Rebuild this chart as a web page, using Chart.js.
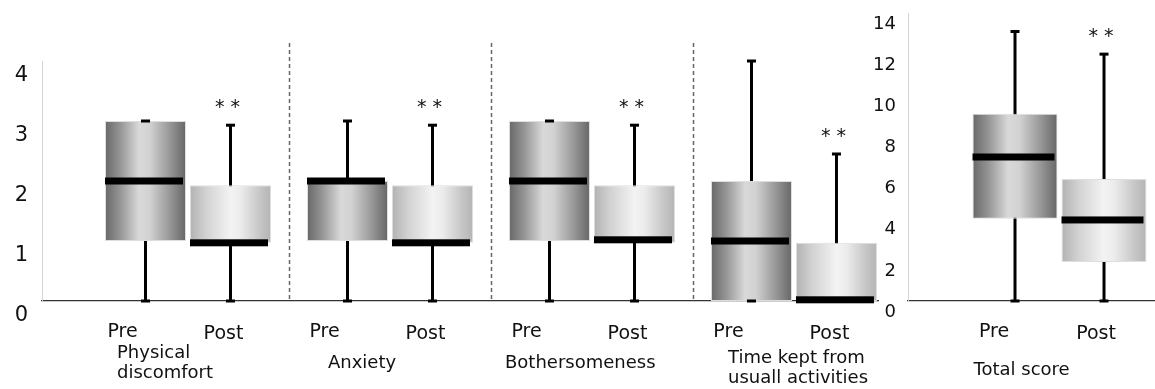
<!DOCTYPE html>
<html>
<head>
<meta charset="utf-8">
<script src="https://cdn.jsdelivr.net/npm/chart.js@4.4.1/dist/chart.umd.min.js"></script>
<style>
  body { margin: 0; background: #fff; width: 1155px; height: 389px; position: relative; overflow: hidden; }
  canvas { position: absolute; top: 0; }
  #subscales { left: 0; }
  #total { left: 860px; }
</style>
</head>
<body>
<canvas id="subscales" width="885" height="389"></canvas>
<canvas id="total" width="295" height="389"></canvas>
<script>
// ---- data: subscales (left panel, 0-4) ----
const groups = [['Physical', 'discomfort'], ['Anxiety'], ['Bothersomeness'], ['Time kept from', 'usuall activities']];
const phases = ['Pre', 'Post'];
const subTicks = [0, 1, 2, 3, 4];

const preMin    = [0, 0, 0, 0];
const preQ1     = [1, 1, 1, 0];
const preMedian = [2, 2, 2, 1];
const preQ3     = [3, 2, 3, 2];
const preMax    = [3, 3, 3, 4];

const postMin    = [0, 0, 0, 0];
const postQ1     = [0.97, 0.97, 0.97, 0];
const postMedian = [0.97, 0.97, 1.02, 0.02];
const postQ3     = [1.93, 1.93, 1.93, 0.97];
const postMax    = [2.93, 2.93, 2.93, 2.45];

const sigMarks = ['* *', '* *', '* *', '* *'];

// ---- data: total score (right panel, 0-14) ----
const totalGroups = [['Total score']];
const totalTicks = [0, 2, 4, 6, 8, 10, 12, 14];
const totalPreMin = [0],  totalPreQ1 = [4],   totalPreMedian = [7],    totalPreQ3 = [9.1],  totalPreMax = [13.1];
const totalPostMin = [0], totalPostQ1 = [1.9], totalPostMedian = [3.94], totalPostQ3 = [5.93], totalPostMax = [12];
const totalSig = ['* *'];

const FONT = 'DejaVu Sans';

// gradient look of the boxes
const gradStops = [
  [[0, '#686868'], [0.18, '#939393'], [0.42, '#d9d9d9'], [0.55, '#d2d2d2'], [0.82, '#939393'], [1, '#666666']],
  [[0, '#b2b2b2'], [0.2, '#d2d2d2'], [0.5, '#f3f3f3'], [0.62, '#ececec'], [0.85, '#c8c8c8'], [1, '#b4b4b4']]
];

const boxPlot = {
  id: 'boxPlot',
  beforeDatasetsDraw(chart, args, opt) {
    const { ctx, chartArea, scales: { x, y } } = chart;
    ctx.save();
    if (opt.separators) {
      ctx.strokeStyle = '#666';
      ctx.lineWidth = 1.5;
      ctx.setLineDash([4, 3]);
      for (let k = 0; k < opt.groups.length - 1; k++) {
        const px = Math.round(x.getPixelForValue(k + 0.5)) + 0.5;
        ctx.beginPath();
        ctx.moveTo(px, 43);
        ctx.lineTo(px, chartArea.bottom);
        ctx.stroke();
      }
      ctx.setLineDash([]);
    }
    ctx.strokeStyle = '#000';
    ctx.lineWidth = 3;
    opt.stats.forEach((s, d) => {
      chart.getDatasetMeta(d).data.forEach((el, i) => {
        ctx.beginPath();
        ctx.moveTo(el.x, y.getPixelForValue(s.min[i]));
        ctx.lineTo(el.x, y.getPixelForValue(s.max[i]));
        ctx.stroke();
        // gradient across each box
        const g = ctx.createLinearGradient(el.x - el.width / 2, 0, el.x + el.width / 2, 0);
        gradStops[d].forEach(([p, c]) => g.addColorStop(p, c));
        el.options = Object.assign({}, el.options, { backgroundColor: g });
      });
    });
    ctx.restore();
  },
  afterDatasetsDraw(chart, args, opt) {
    const { ctx, scales: { y } } = chart;
    ctx.save();
    ctx.fillStyle = '#000';
    opt.stats.forEach((s, d) => {
      chart.getDatasetMeta(d).data.forEach((el, i) => {
        // caps
        [s.min[i], s.max[i]].forEach(v => {
          ctx.fillRect(el.x - 4.5, y.getPixelForValue(v) - 1.5, 9, 3);
        });
        // median
        ctx.fillRect(el.x - el.width / 2, y.getPixelForValue(s.median[i]) - 3.5, el.width - 3, 7);
      });
    });
    ctx.restore();
  },
  afterDraw(chart, args, opt) {
    const { ctx, scales: { x, y } } = chart;
    ctx.save();
    ctx.fillStyle = '#111';
    ctx.textAlign = 'center';
    ctx.textBaseline = 'alphabetic';
    // Pre / Post labels
    ctx.font = '19px "' + FONT + '"';
    opt.stats.forEach((s, d) => {
      chart.getDatasetMeta(d).data.forEach(el => {
        ctx.fillText(phases[d], el.x + opt.phaseDx[d], opt.phaseY[d]);
      });
    });
    // group names (left aligned block under each pair)
    ctx.font = '18px "' + FONT + '"';
    ctx.textAlign = 'left';
    opt.groups.forEach((lines, i) => {
      const lx = x.getPixelForValue(i) + opt.groupDx[i];
      lines.forEach((t, l) => ctx.fillText(t, lx, opt.groupY[i] + l * 20));
    });
    // significance marks above Post whiskers
    ctx.font = '19px "' + FONT + '"';
    ctx.textAlign = 'center';
    ctx.textBaseline = 'middle';
    const post = opt.stats[1];
    chart.getDatasetMeta(1).data.forEach((el, i) => {
      ctx.fillText(opt.sig[i], el.x - 3, y.getPixelForValue(post.max[i]) - 17);
    });
    ctx.restore();
  }
};

function boxChart(id, cfg) {
  const n = cfg.groups.length;
  const boxes = (q1, q3) => q1.map((v, i) => ({ x: i, y: [v, q3[i]] }));
  return new Chart(document.getElementById(id), {
    type: 'bar',
    data: {
      datasets: [
        { label: phases[0], data: boxes(cfg.stats[0].q1, cfg.stats[0].q3) },
        { label: phases[1], data: boxes(cfg.stats[1].q1, cfg.stats[1].q3) }
      ]
    },
    options: {
      responsive: false,
      animation: false,
      events: [],
      categoryPercentage: cfg.catPct,
      barPercentage: cfg.barPct,
      borderColor: '#dedede',
      borderWidth: 1,
      borderSkipped: false,
      layout: { padding: cfg.padding },
      scales: {
        x: {
          type: 'linear',
          offset: false,
          min: cfg.xMin,
          max: cfg.xMax,
          grid: { display: false, drawTicks: false },
          ticks: { display: false, stepSize: 1, includeBounds: false },
          border: { display: true, color: '#333', width: 1.3 },
          afterFit: s => { s.height = 0; s.paddingLeft = 0; s.paddingRight = 0; }
        },
        y: {
          min: cfg.ticks[0],
          max: cfg.ticks[cfg.ticks.length - 1],
          afterBuildTicks: s => { s.ticks = cfg.ticks.map(v => ({ value: v })); },
          grid: { display: false, drawTicks: false },
          border: { display: true, color: '#d4d4d4', width: 1 },
          ticks: {
            color: '#111',
            font: { family: FONT, size: cfg.tickSize },
            padding: cfg.tickPad,
            labelOffset: cfg.labelOffset
          },
          afterFit: s => { s.width = cfg.yWidth; s.paddingTop = 0; s.paddingBottom = 0; }
        }
      },
      plugins: {
        legend: { display: false },
        tooltip: { enabled: false },
        boxPlot: {
          stats: cfg.stats,
          groups: cfg.groups,
          sig: cfg.sig,
          separators: n > 1,
          phaseDx: cfg.phaseDx,
          phaseY: [337, 339],
          groupDx: cfg.groupDx,
          groupY: cfg.groupY
        }
      }
    },
    plugins: [boxPlot]
  });
}

boxChart('subscales', {
  groups: groups,
  ticks: subTicks,
  sig: sigMarks,
  stats: [
    { min: preMin, q1: preQ1, median: preMedian, q3: preQ3, max: preMax },
    { min: postMin, q1: postQ1, median: postMedian, q3: postQ3, max: postMax }
  ],
  xMin: -0.7228, xMax: 3.416,
  catPct: 0.8416, barPct: 0.953,
  padding: { top: 61, bottom: 88, left: 0, right: 7 },
  yWidth: 42, tickSize: 21, tickPad: 14, labelOffset: 15,
  phaseDx: [-23, -7],
  groupDx: [-71, -62, -87, -66],
  groupY: [358, 368, 368, 363]
});

boxChart('total', {
  groups: totalGroups,
  ticks: totalTicks,
  sig: totalSig,
  stats: [
    { min: totalPreMin, q1: totalPreQ1, median: totalPreMedian, q3: totalPreQ3, max: totalPreMax },
    { min: totalPostMin, q1: totalPostQ1, median: totalPostMedian, q3: totalPostQ3, max: totalPostMax }
  ],
  xMin: -0.6134, xMax: 0.3866,
  catPct: 0.7206, barPct: 0.955,
  padding: { top: 13, bottom: 88, left: 0, right: 0 },
  yWidth: 48, tickSize: 18, tickPad: 12, labelOffset: 11,
  phaseDx: [-21, -8],
  groupDx: [-86],
  groupY: [375]
});
</script>
</body>
</html>
